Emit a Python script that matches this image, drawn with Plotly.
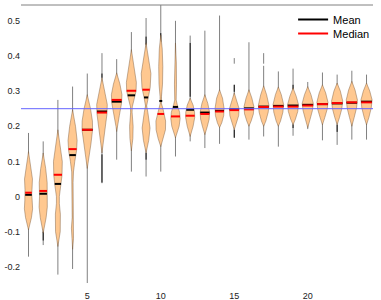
import numpy as np
import plotly.graph_objects as go

groups = list(range(1, 25))

means = [0.005, 0.008, 0.036, 0.118, 0.19, 0.242, 0.27, 0.288, 0.282, 0.272, 0.255, 0.247,
         0.239, 0.244, 0.249, 0.251, 0.256, 0.258, 0.259, 0.261, 0.263, 0.265, 0.267, 0.27]
medians = [0.011, 0.016, 0.062, 0.135, 0.19, 0.239, 0.275, 0.301, 0.304, 0.235, 0.228, 0.23,
           0.235, 0.242, 0.246, 0.248, 0.255, 0.256, 0.256, 0.259, 0.263, 0.266, 0.268, 0.268]

# full-range vertical lines (some have gaps)
whiskers = [
    [(-0.171, 0.181)], [(-0.138, 0.157)], [(-0.222, 0.275)], [(-0.206, 0.313)],
    [(-0.246, 0.35)], [(0.038, 0.408)], [(0.105, 0.391)], [(0.071, 0.468)],
    [(0.057, 0.508)], [(0.071, 0.545)], [(0.114, 0.50)], [(0.157, 0.458)],
    [(0.138, 0.472)], [(0.15, 0.515)], [(0.169, 0.318), (0.378, 0.394)], [(0.162, 0.439)],
    [(0.171, 0.372), (0.378, 0.408)], [(0.142, 0.356)], [(0.173, 0.364)], [(0.192, 0.326)],
    [(0.16, 0.353)], [(0.147, 0.347)], [(0.162, 0.358)], [(0.162, 0.347)],
]

# dark sections on the vertical lines
dark_parts = [
    [], [(-0.125, -0.1)], [], [], [], [(0.04, 0.12), (0.338, 0.35)], [], [],
    [(0.105, 0.124), (0.432, 0.455)], [(0.44, 0.465)], [], [(0.284, 0.437)],
    [], [], [(0.167, 0.19), (0.298, 0.318)], [], [], [], [(0.195, 0.205), (0.305, 0.318)], [],
    [], [(0.184, 0.204)], [], [],
]

# bean outlines: heights (top to bottom) and half widths (in x units)
bean_y = [
    [0.128, 0.09, 0.05, 0.02, 0.008, -0.01, -0.035, -0.06, -0.095],
    [0.124, 0.08, 0.04, 0.016, 0.0, -0.03, -0.06, -0.104],
    [0.19, 0.14, 0.1, 0.06, 0.03, 0.0, -0.02, -0.05, -0.1, -0.142],
    [0.247, 0.2, 0.16, 0.13, 0.1, 0.07, 0.04, -0.06, -0.09, -0.12, -0.15],
    [0.29, 0.25, 0.215, 0.19, 0.15, 0.11, 0.08],
    [0.338, 0.3, 0.262, 0.235, 0.19, 0.15, 0.124],
    [0.352, 0.32, 0.29, 0.265, 0.23, 0.2, 0.185],
    [0.418, 0.37, 0.325, 0.3, 0.275, 0.255, 0.24, 0.2, 0.165, 0.13],
    [0.437, 0.39, 0.35, 0.31, 0.28, 0.258, 0.24, 0.195, 0.16, 0.124],
    [0.46, 0.42, 0.37, 0.32, 0.285, 0.265, 0.25, 0.215, 0.19, 0.165, 0.142],
    [0.437, 0.38, 0.32, 0.275, 0.262, 0.24, 0.222, 0.2, 0.167],
    [0.28, 0.26, 0.24, 0.225, 0.2, 0.171],
    [0.29, 0.265, 0.24, 0.22, 0.2, 0.176],
    [0.304, 0.28, 0.25, 0.23, 0.21, 0.196],
    [0.295, 0.27, 0.25, 0.23, 0.21, 0.19],
    [0.304, 0.28, 0.255, 0.235, 0.215, 0.2],
    [0.315, 0.29, 0.26, 0.24, 0.215, 0.2],
    [0.312, 0.29, 0.262, 0.24, 0.215, 0.2],
    [0.309, 0.285, 0.262, 0.242, 0.22, 0.204],
    [0.313, 0.29, 0.265, 0.245, 0.22, 0.196],
    [0.318, 0.295, 0.268, 0.248, 0.225, 0.204],
    [0.323, 0.3, 0.272, 0.25, 0.225, 0.204],
    [0.328, 0.303, 0.275, 0.252, 0.225, 0.2],
    [0.323, 0.3, 0.275, 0.252, 0.225, 0.204],
]
bean_w = [
    [0, 0.15, 0.27, 0.24, 0.22, 0.25, 0.28, 0.2, 0],
    [0, 0.17, 0.27, 0.26, 0.25, 0.28, 0.2, 0],
    [0, 0.18, 0.3, 0.28, 0.2, 0.1, 0.1, 0.17, 0.16, 0],
    [0, 0.2, 0.31, 0.27, 0.15, 0.06, 0.03, 0.03, 0.08, 0.06, 0],
    [0, 0.22, 0.35, 0.36, 0.25, 0.1, 0],
    [0, 0.2, 0.36, 0.34, 0.2, 0.08, 0],
    [0, 0.22, 0.36, 0.33, 0.18, 0.05, 0],
    [0, 0.18, 0.34, 0.32, 0.18, 0.06, 0.05, 0.12, 0.1, 0],
    [0, 0.2, 0.33, 0.28, 0.13, 0.04, 0.12, 0.27, 0.18, 0],
    [0, 0.1, 0.14, 0.12, 0.05, 0.04, 0.15, 0.33, 0.32, 0.18, 0],
    [0, 0.06, 0.07, 0.05, 0.12, 0.28, 0.32, 0.25, 0],
    [0, 0.2, 0.3, 0.31, 0.2, 0],
    [0, 0.2, 0.32, 0.29, 0.17, 0],
    [0, 0.2, 0.31, 0.28, 0.15, 0],
    [0, 0.2, 0.33, 0.3, 0.15, 0],
    [0, 0.2, 0.34, 0.3, 0.15, 0],
    [0, 0.2, 0.36, 0.31, 0.15, 0],
    [0, 0.2, 0.36, 0.31, 0.15, 0],
    [0, 0.22, 0.37, 0.32, 0.16, 0],
    [0, 0.22, 0.38, 0.32, 0.16, 0],
    [0, 0.22, 0.38, 0.32, 0.16, 0],
    [0, 0.22, 0.38, 0.32, 0.16, 0],
    [0, 0.22, 0.38, 0.32, 0.16, 0],
    [0, 0.22, 0.38, 0.32, 0.16, 0],
]

reference_level = 0.25
y_tickvals = [-0.2, -0.1, 0, 0.1, 0.2, 0.3, 0.4, 0.5]
y_ticktext = ["-0.2", "-0.1", "0", "0.1", "0.2", "0.3", "0.4", "0.5"]
x_tickvals = [5, 10, 15, 20]

FILL = "#FFC890"
EDGE = "rgba(120,90,60,0.75)"

fig = go.Figure()

# vertical lines
wx, wy = [], []
for g, segs in zip(groups, whiskers):
    for lo, hi in segs:
        wx += [g, g, None]
        wy += [lo, hi, None]
fig.add_trace(go.Scatter(x=wx, y=wy, mode="lines", line=dict(color="#808080", width=1),
                         showlegend=False, hoverinfo="skip"))
dx, dy = [], []
for g, segs in zip(groups, dark_parts):
    for lo, hi in segs:
        dx += [g, g, None]
        dy += [lo, hi, None]
fig.add_trace(go.Scatter(x=dx, y=dy, mode="lines", line=dict(color="#111111", width=1),
                         showlegend=False, hoverinfo="skip"))

# beans
for g, ys, ws in zip(groups, bean_y, bean_w):
    ys = np.array(ys, float)
    ws = np.array(ws, float)
    px = np.concatenate([g + ws, (g - ws)[::-1]])
    py = np.concatenate([ys, ys[::-1]])
    fig.add_trace(go.Scatter(x=px, y=py, mode="lines", fill="toself", fillcolor=FILL,
                             line=dict(color=EDGE, width=0.6), showlegend=False,
                             hoverinfo="skip"))


def half_width(i, v):
    ys = np.array(bean_y[i], float)[::-1]
    ws = np.array(bean_w[i], float)[::-1]
    return max(float(np.interp(v, ys, ws)), 0.1)


mx, my = [], []
for i, (g, m) in enumerate(zip(groups, means)):
    h = half_width(i, m)
    mx += [g - h, g + h, None]
    my += [m, m, None]
fig.add_trace(go.Scatter(x=mx, y=my, mode="lines", line=dict(color="black", width=2),
                         name="Mean", hoverinfo="skip", legend="legend"))
ex, ey = [], []
for i, (g, m) in enumerate(zip(groups, medians)):
    h = half_width(i, m)
    ex += [g - h, g + h, None]
    ey += [m, m, None]
fig.add_trace(go.Scatter(x=ex, y=ey, mode="lines", line=dict(color="red", width=2),
                         name="Median", hoverinfo="skip", legend="legend2"))

fig.add_shape(type="line", xref="paper", x0=0, x1=1, yref="y", y0=reference_level,
              y1=reference_level, line=dict(color="#6464FF", width=1), layer="above")
fig.add_shape(type="line", xref="paper", x0=0, x1=1, yref="paper", y0=1, y1=1,
              line=dict(color="#808080", width=1), layer="above")

leg_common = dict(xanchor="left", yanchor="top", font=dict(size=11, color="black"),
                  bgcolor="rgba(0,0,0,0)", borderwidth=0)

fig.update_layout(
    width=381, height=300,
    margin=dict(l=21, r=8, t=5, b=15, autoexpand=False),
    paper_bgcolor="white", plot_bgcolor="white",
    font=dict(family="Liberation Sans, Arial, sans-serif", size=9, color="#222222"),
    showlegend=True,
    legend=dict(x=0.773, y=1.0, **leg_common),
    legend2=dict(x=0.773, y=0.95, **leg_common),
    xaxis=dict(range=[0.49, 24.44], tickvals=x_tickvals, ticks="", showline=False,
               showgrid=False, zeroline=False, ticklabelstandoff=4, automargin=False),
    yaxis=dict(range=[-0.2516, 0.545], tickvals=y_tickvals, ticktext=y_ticktext,
               ticks="", showline=False, showgrid=False, zeroline=False, automargin=False),
)

fig.write_html("out.html", config={"displayModeBar": False},
               post_script="document.body.style.margin='0';")
